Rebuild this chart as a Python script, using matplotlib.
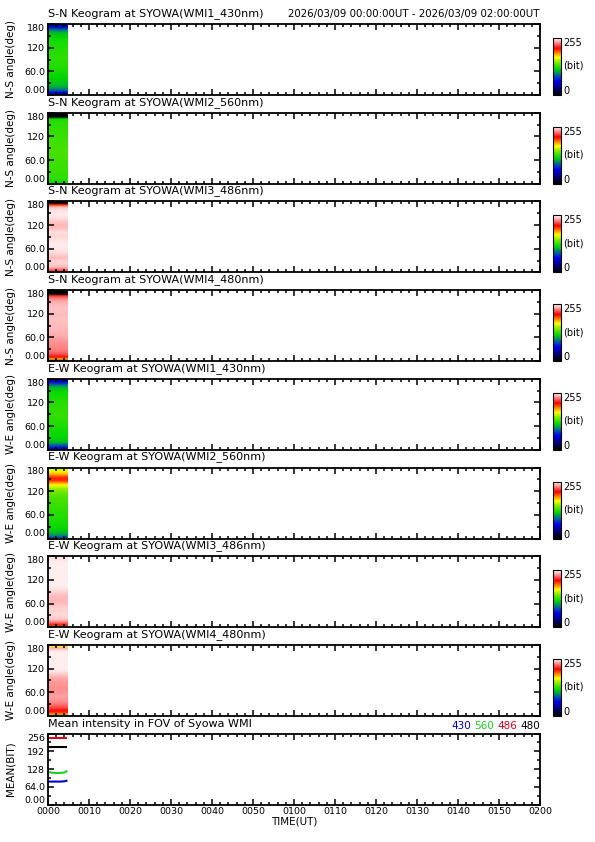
import numpy as np
import matplotlib
matplotlib.use("Agg")
import matplotlib.pyplot as plt
from matplotlib.colors import LinearSegmentedColormap
from matplotlib.ticker import MultipleLocator

plt.rcParams['font.family'] = ['DejaVu Sans']

# ---- data ----
angles = np.arange(0, 181, 5)          # deg, 0 .. 180
strip_end = 4.7                         # minutes of data after 00:00 UT

panel_titles = ["S-N Keogram at SYOWA(WMI1_430nm)",
                "S-N Keogram at SYOWA(WMI2_560nm)",
                "S-N Keogram at SYOWA(WMI3_486nm)",
                "S-N Keogram at SYOWA(WMI4_480nm)",
                "E-W Keogram at SYOWA(WMI1_430nm)",
                "E-W Keogram at SYOWA(WMI2_560nm)",
                "E-W Keogram at SYOWA(WMI3_486nm)",
                "E-W Keogram at SYOWA(WMI4_480nm)"]
ylabels = ["N-S angle(deg)"] * 4 + ["W-E angle(deg)"] * 4

# intensity (bit) along angle 0..180 step 5
sn_430 = [35, 60, 80, 95, 105, 110, 112, 114, 115, 117, 118, 120, 122, 123, 124, 125, 126, 126, 127,
          127, 126, 126, 125, 125, 124, 124, 123, 122, 120, 118, 115, 112, 105, 92, 72, 50, 28]
sn_560 = [112, 120, 125, 127, 128, 128, 129, 129, 130, 130, 130, 131, 131, 132, 132, 132, 133, 133, 132,
          132, 131, 131, 130, 130, 129, 129, 128, 128, 128, 127, 127, 126, 125, 120, 0, 0, 0]
sn_486 = [212, 225, 238, 244, 246, 247, 246, 243, 244, 247, 249, 250, 251, 251, 252, 251, 250, 249, 248,
          248, 249, 247, 244, 243, 242, 244, 246, 248, 250, 251, 251, 250, 248, 242, 200, 0, 0]
sn_480 = [0, 180, 210, 220, 226, 230, 232, 233, 234, 235, 236, 237, 239, 240, 241, 242, 242, 243, 243,
          243, 244, 244, 244, 243, 243, 244, 244, 244, 243, 242, 240, 236, 230, 218, 0, 0, 0]
ew_430 = [40, 65, 80, 95, 110, 114, 116, 118, 119, 120, 121, 122, 123, 124, 125, 126, 127, 128, 128,
          128, 128, 127, 126, 126, 125, 124, 123, 122, 121, 119, 117, 112, 105, 92, 72, 50, 30]
ew_560 = [75, 95, 105, 110, 115, 118, 120, 121, 122, 123, 124, 125, 126, 126, 127, 128, 129, 130, 131,
          132, 133, 135, 138, 141, 145, 150, 160, 170, 185, 200, 205, 200, 185, 175, 165, 160, 150]
ew_486 = [125, 205, 225, 238, 245, 247, 248, 248, 247, 247, 246, 244, 243, 242, 242, 243, 244, 246, 248,
          250, 251, 252, 252, 252, 252, 252, 252, 252, 252, 252, 252, 252, 252, 251, 250, 249, 248]
ew_480 = [130, 185, 205, 212, 220, 226, 230, 234, 236, 237, 238, 237, 236, 235, 235, 236, 236, 237, 238,
          240, 243, 246, 249, 251, 252, 252, 252, 252, 252, 252, 252, 252, 252, 248, 240, 170, 125]
keograms = [sn_430, sn_560, sn_486, sn_480, ew_430, ew_560, ew_486, ew_480]

# mean intensity in FOV
mean_time = [0.0, 1.0, 2.0, 3.0, 4.0, 4.5]
mean_430 = [83, 83, 83, 83, 84, 86]
mean_560 = [118, 115, 114, 114, 116, 120]
mean_486 = [239, 239, 239, 239, 239, 239]
mean_480 = [207, 207, 207, 207, 207, 207]
legend_names = ["430", "560", "486", "480"]
legend_colors = ["#0000c8", "#22cc22", "#d8001e", "black"]

time_ticks = list(range(0, 121, 10))
time_labels = ["0000", "0010", "0020", "0030", "0040", "0050", "0100",
               "0110", "0120", "0130", "0140", "0150", "0200"]

# ---- colour table: black-blue-green-yellow-red-white ----
cmap = LinearSegmentedColormap.from_list("keo", [
    (0.00, (0, 0, 0)),
    (0.12, (0, 0, 0.45)),
    (0.25, (0, 0, 0.95)),
    (0.36, (0, 0.45, 0.55)),
    (0.46, (0, 0.85, 0)),
    (0.58, (0.55, 0.92, 0)),
    (0.66, (1, 1, 0)),
    (0.74, (1, 0.5, 0)),
    (0.82, (1, 0, 0)),
    (0.91, (1, 0.5, 0.5)),
    (1.00, (1, 1, 1))])

W, H = 595, 842
fig = plt.figure(figsize=(W / 100, H / 100), dpi=100)


def px(x0, y0, w, h):
    return [x0 / W, 1 - (y0 + h) / H, w / W, h / H]


def style_axes(ax):
    ax.set_xlim(0, 120)
    ax.xaxis.set_major_locator(plt.FixedLocator(time_ticks))
    ax.xaxis.set_minor_locator(MultipleLocator(2))
    ax.tick_params(which='both', direction='in', top=True, right=True,
                   labelsize=6.8, pad=2, width=1.1)
    ax.tick_params(which='major', length=4.5)
    ax.tick_params(which='minor', length=2.5)
    for s in ax.spines.values():
        s.set_linewidth(1.3)


def tuck_end_labels(ax):
    # end labels sit inside the frame, like the IDL original
    labs = ax.get_yticklabels()
    labs[0].set_verticalalignment('bottom')
    labs[-1].set_verticalalignment('top')


left, right = 48, 540
top0, step, ph = 24, 88.7, 71

for i, prof in enumerate(keograms):
    top = top0 + i * step
    ax = fig.add_axes(px(left, top, right - left, ph))
    img = np.array(prof, dtype=float).reshape(-1, 1)
    im = ax.imshow(img, cmap=cmap, vmin=0, vmax=255, origin='lower', aspect='auto',
                   interpolation='bilinear', extent=[0, strip_end, -2.5, 182.5])
    style_axes(ax)
    ax.set_ylim(0, 180)
    ax.yaxis.set_major_locator(plt.FixedLocator([0, 60, 120, 180]))
    ax.yaxis.set_minor_locator(MultipleLocator(30))
    ax.set_yticklabels(["0.00", "60.0", "120", "180"])
    tuck_end_labels(ax)
    ax.set_xticklabels([])
    ax.set_ylabel(ylabels[i], fontsize=7.5, labelpad=0)
    ax.yaxis.set_label_coords(-0.066, 0.5)
    fig.text(left / W, 1 - (top - 5) / H, panel_titles[i], fontsize=8, ha='left', va='bottom')

    cax = fig.add_axes(px(553, top + 14, 8, ph - 14))
    cb = fig.colorbar(im, cax=cax)
    cb.set_ticks([])
    cb.outline.set_linewidth(0.8)
    fig.text(563 / W, 1 - (top + 19) / H, "255", fontsize=7, va='center')
    fig.text(563 / W, 1 - (top + 42) / H, "(bit)", fontsize=7, va='center')
    fig.text(563 / W, 1 - (top + ph - 4) / H, "0", fontsize=7, va='center')

fig.text(right / W, 1 - 19 / H, "2026/03/09 00:00:00UT - 2026/03/09 02:00:00UT",
         fontsize=7.4, ha='right', va='bottom')

# ---- mean intensity panel ----
top = top0 + 8 * step
ax = fig.add_axes(px(left, top, right - left, ph))
for vals, c in zip([mean_430, mean_560, mean_486, mean_480], legend_colors):
    ax.plot(mean_time, vals, color=c, lw=1.5)
style_axes(ax)
ax.set_ylim(0, 256)
ax.yaxis.set_major_locator(plt.FixedLocator([0, 64, 128, 192, 256]))
ax.yaxis.set_minor_locator(MultipleLocator(32))
ax.set_yticklabels(["0.00", "64.0", "128", "192", "256"])
tuck_end_labels(ax)
ax.set_xticklabels(time_labels)
ax.set_ylabel("MEAN(BIT)", fontsize=7.5, labelpad=0)
ax.yaxis.set_label_coords(-0.066, 0.5)
ax.set_xlabel("TIME(UT)", fontsize=7.5, labelpad=0)
fig.text(left / W, 1 - (top - 5) / H, "Mean intensity in FOV of Syowa WMI",
         fontsize=8, ha='left', va='bottom')

# coloured legend, right aligned
x = right
for name, c in reversed(list(zip(legend_names, legend_colors))):
    t = fig.text(x / W, 1 - (top - 3) / H, name, color=c, fontsize=7.5, ha='right', va='bottom')
    fig.canvas.draw()
    bb = t.get_window_extent()
    x = bb.x0 - 3

fig.savefig("out.png", dpi=100)
